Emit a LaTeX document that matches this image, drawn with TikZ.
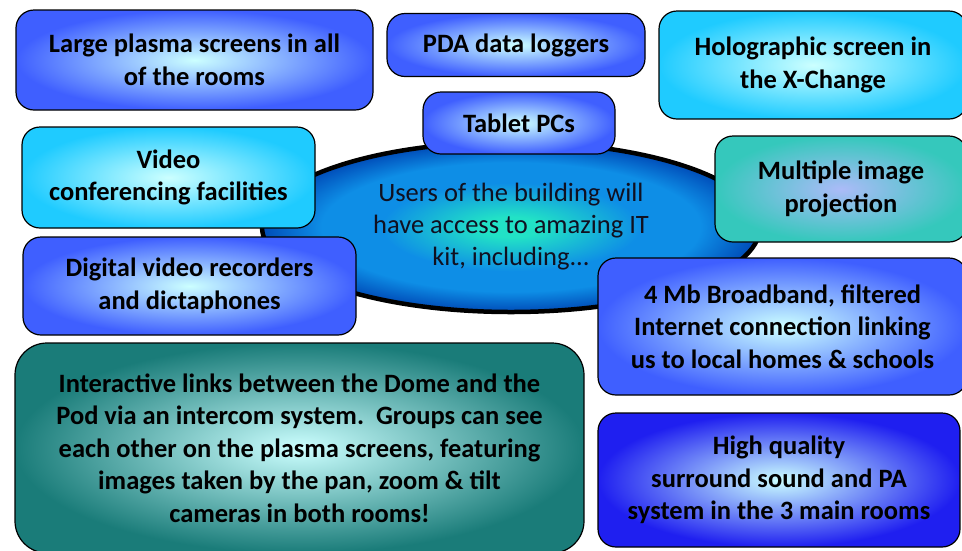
\documentclass[tikz,border=0pt]{standalone}
\usepackage{fontspec}
\setmainfont{Carlito}
\usetikzlibrary{shapes.geometric}

\definecolor{glow}{HTML}{CCFFFF}
\definecolor{kitblue}{HTML}{3F5FFF}
\definecolor{kitcyan}{HTML}{1FCBFF}
\definecolor{kitteal}{HTML}{35C8BC}
\definecolor{kitsea}{HTML}{1A7C79}
\definecolor{kitdeep}{HTML}{1F1FF0}
\definecolor{hubcore}{HTML}{22E2C6}
\definecolor{hubmid}{HTML}{0E8EE6}
\definecolor{hubrim}{HTML}{004CB8}
\definecolor{hubtext}{HTML}{101020}

\pgfdeclareradialshading{hubshade}{\pgfpoint{0bp}{0bp}}{%
  color(0bp)=(hubcore); color(3bp)=(hubcore); color(13bp)=(hubmid);
  color(19bp)=(hubmid); color(25bp)=(hubrim); color(50bp)=(hubrim)}

\tikzset{
  kit/.style={draw=black, line width=1.2pt, rounded corners=18pt,
    shading=radial, inner color=glow, align=center, inner sep=0pt,
    font=\bfseries\fontsize{26.5}{32.5}\selectfont},
  bluekit/.style={kit, outer color=kitblue},
  cyankit/.style={kit, outer color=kitcyan},
  tealkit/.style={kit, outer color=kitteal, inner color=kitteal!30!blue!35!white},
  seakit/.style={kit, outer color=kitsea, rounded corners=32pt},
  deepkit/.style={kit, outer color=kitdeep},
  hub/.style={ellipse, draw=black, line width=4.5pt, shading=hubshade,
    align=center, text=hubtext, font=\fontsize{26.5}{32}\selectfont}
}

\begin{document}
\begin{tikzpicture}[x=1pt, y=-1pt]
    \useasboundingbox (0,0) rectangle (962,550);
    % l'ellipse au centre, sous les boites
    \node[hub, minimum width=498, minimum height=170] (hub) at (511,227)
        {Users of the building will\\ have access to amazing IT\\ kit, including...};

    \node[bluekit, minimum width=357, minimum height=100] (plasma) at (194.5,60)
        {Large plasma screens in all\\ of the rooms};
    \node[bluekit, minimum width=258, minimum height=63] (pda) at (516,45)
        {PDA data loggers};
    \node[bluekit, minimum width=192, minimum height=62] (tablet) at (519,123)
        {Tablet PCs};
    \node[cyankit, minimum width=308, minimum height=108] (holo) at (813,65)
        {Holographic screen in\\ the X-Change};
    \node[cyankit, minimum width=293, minimum height=101] (video) at (168.5,177.5)
        {Video\\ conferencing facilities};
    \node[tealkit, minimum width=252, minimum height=106] (multi) at (841,189)
        {Multiple image\\ projection};
    \node[bluekit, minimum width=333, minimum height=98] (dvr) at (189.5,286)
        {Digital video recorders\\ and dictaphones};
    \node[bluekit, minimum width=369, minimum height=137] (broadband) at (782.5,326.5)
        {4 Mb Broadband, filtered\\ Internet connection linking\\ us to local homes \& schools};

    % grandes boites du bas
    \node[seakit, minimum width=569, minimum height=210] (links) at (299.5,448)
        {Interactive links between the Dome and the\\
         Pod via an intercom system.\ \ Groups can see\\
         each other on the plasma screens, featuring\\
         images taken by the pan, zoom \& tilt\\
         cameras in both rooms!};
    \node[deepkit, minimum width=362, minimum height=134] (sound) at (779,480)
        {High quality\\ surround sound and PA\\ system in the 3 main rooms};
\end{tikzpicture}
\end{document}
